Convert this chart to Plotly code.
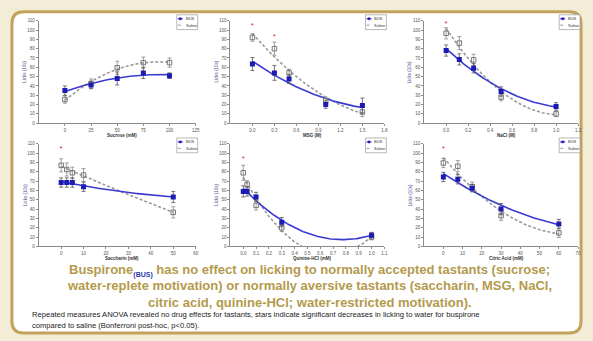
import numpy as np
import plotly.graph_objects as go

W, H = 593, 341

# ---------------- data ----------------
panel_titles = ["Sucrose (mM)", "MSG (M)", "NaCl (M)",
                "Saccharin (mM)", "Quinine-HCl (mM)", "Citric Acid (mM)"]

sucrose_x = [0, 25, 50, 75, 100]
sucrose_bus = [35, 41, 48, 54, 51]
sucrose_bus_err = [5, 4, 7, 6, 3]
sucrose_sal = [25.5, 42.5, 59.5, 65, 65]
sucrose_sal_err = [4, 5, 7, 6, 5]

msg_x = [0, 0.3, 0.5, 1.0, 1.5]
msg_bus = [63.5, 54, 47.5, 20, 19]
msg_bus_err = [7, 8, 5, 4, 8]
msg_sal = [92, 80, 54, 24, 12]
msg_sal_err = [4, 7, 4, 4, 5]

nacl_x = [0, 0.12, 0.25, 0.5, 1.0]
nacl_bus = [78, 68.5, 59, 34, 18]
nacl_bus_err = [6, 6, 5, 5, 4]
nacl_sal = [96.5, 86, 68, 28, 10]
nacl_sal_err = [6, 7, 6, 4, 3]

sacc_x = [0, 2.5, 5, 10, 50]
sacc_bus = [68.5, 68.5, 68.5, 64, 53]
sacc_bus_err = [5, 5, 5, 5, 6]
sacc_sal = [87, 82.5, 79, 76.5, 36.5]
sacc_sal_err = [7, 7, 6, 7, 6]

quin_x = [0, 0.03, 0.1, 0.3, 1.0]
quin_bus = [59, 59, 53, 26, 12]
quin_bus_err = [6, 5, 5, 5, 3]
quin_sal = [79, 66.5, 44, 20, 10]
quin_sal_err = [8, 4, 5, 4, 3]

citric_x = [0, 7.5, 15, 30, 60]
citric_bus = [74.5, 72, 62.5, 40, 24]
citric_bus_err = [5, 5, 4, 6, 5]
citric_sal = [89.5, 86, 64, 33, 14.5]
citric_sal_err = [5, 6, 5, 5, 5]

# significance stars (x, y)
star_x = [None, [0, 0.3], [0], [0], [0], [0]]
star_y = [None, [104, 92], [106], [105], [94], [104]]

x_ticks = [
    [0, 25, 50, 75, 100, 125],
    [0.0, 0.3, 0.6, 0.9, 1.2, 1.5, 1.8],
    [0.0, 0.2, 0.4, 0.6, 0.8, 1.0, 1.2],
    [0, 10, 20, 30, 40, 50, 60],
    [0.0, 0.1, 0.2, 0.3, 0.4, 0.5, 0.6, 0.7, 0.8, 0.9, 1.0, 1.1],
    [0, 10, 20, 30, 40, 50, 60, 70],
]
x_tick_fmt = ["{:.0f}", "{:.1f}", "{:.1f}", "{:.0f}", "{:.1f}", "{:.0f}"]
x_ranges = [[-25, 125], [-0.3, 1.8], [-0.2, 1.2], [-10, 60], [-0.1, 1.1], [-10, 70]]
y_ticks = list(range(0, 111, 10))

caption_lines = [
    "<b>Buspirone<sub><span style='font-size:7px;color:#2a3aa8'>(BUS)</span></sub> has no effect on licking "
    "to normally accepted tastants (sucrose;</b>",
    "<b>water-replete motivation) or normally aversive tastants (saccharin, MSG, NaCl,</b>",
    "<b>citric acid, quinine-HCl; water-restricted motivation).</b>",
]
note_lines = [
    "Repeated measures ANOVA revealed no drug effects for tastants, stars indicate "
    "significant decreases in licking to water for buspirone",
    "compared to saline (Bonferroni post-hoc, p<0.05).",
]

panels = [
    (sucrose_x, sucrose_bus, sucrose_bus_err, sucrose_sal, sucrose_sal_err),
    (msg_x, msg_bus, msg_bus_err, msg_sal, msg_sal_err),
    (nacl_x, nacl_bus, nacl_bus_err, nacl_sal, nacl_sal_err),
    (sacc_x, sacc_bus, sacc_bus_err, sacc_sal, sacc_sal_err),
    (quin_x, quin_bus, quin_bus_err, quin_sal, quin_sal_err),
    (citric_x, citric_bus, citric_bus_err, citric_sal, citric_sal_err),
]

# ---------------- layout geometry (pixels) ----------------
def px(x):
    return x / W

def py(y):
    return 1 - y / H

col_px = [(39, 197), (232, 387), (427, 582)]
row_px = [(19, 123), (144, 248)]

BLUE = "#1c1cb4"
BLUE_LINE = "#3a3ad0"
FONT = "Liberation Sans"

fig = go.Figure()
shapes = []
annotations = []

def note(x, y, text, size, color, xanchor="center", yanchor="middle", **kw):
    annotations.append(dict(x=px(x), y=py(y), xref="paper", yref="paper", text=text,
                            showarrow=False, xanchor=xanchor, yanchor=yanchor,
                            font=dict(size=size, color=color, family=FONT), **kw))

for i, (xs, bus, bus_e, sal, sal_e) in enumerate(panels):
    k = i + 1
    r, c = divmod(i, 3)
    xa = "x" if k == 1 else f"x{k}"
    ya = "y" if k == 1 else f"y{k}"
    xs_arr = np.array(xs, dtype=float)
    grid = np.linspace(xs_arr.min(), xs_arr.max(), 80)
    fit_sal = np.polyval(np.polyfit(xs_arr, sal, 2), grid)
    fit_bus = np.polyval(np.polyfit(xs_arr, bus, 2), grid)

    fig.add_trace(go.Scatter(x=grid, y=fit_sal, mode="lines", xaxis=xa, yaxis=ya,
                             line=dict(color="#9a9a9a", width=1.6, dash="3px,2px"),
                             showlegend=False, hoverinfo="skip"))
    fig.add_trace(go.Scatter(x=grid, y=fit_bus, mode="lines", xaxis=xa, yaxis=ya,
                             line=dict(color=BLUE_LINE, width=1.6),
                             showlegend=False, hoverinfo="skip"))
    fig.add_trace(go.Scatter(x=xs, y=sal, mode="markers", xaxis=xa, yaxis=ya,
                             marker=dict(symbol="square-open", size=4.5, color="#777777",
                                         line=dict(width=1)),
                             error_y=dict(type="data", array=sal_e, color="#888888",
                                          thickness=0.8, width=2),
                             showlegend=False))
    fig.add_trace(go.Scatter(x=xs, y=bus, mode="markers", xaxis=xa, yaxis=ya,
                             marker=dict(symbol="square", size=5, color=BLUE),
                             error_y=dict(type="data", array=bus_e, color="#555555",
                                          thickness=0.8, width=2),
                             showlegend=False))
    if star_x[i]:
        fig.add_trace(go.Scatter(x=star_x[i], y=star_y[i], mode="text", text=["*"] * len(star_x[i]),
                                 textfont=dict(color="#e0303a", size=8, family=FONT),
                                 xaxis=xa, yaxis=ya, showlegend=False, hoverinfo="skip"))

    x0, x1 = col_px[c]
    y0, y1 = row_px[r]
    axis_common = dict(showline=True, linecolor="#8c8c8c", linewidth=1, ticks="outside",
                       ticklen=2, tickcolor="#8c8c8c", showgrid=False, zeroline=False,
                       tickfont=dict(size=4.5, color="#555555", family=FONT))
    fig.update_layout(**{
        ("xaxis" if k == 1 else f"xaxis{k}"): dict(
            domain=[px(x0), px(x1)], anchor=ya, range=x_ranges[i],
            tickvals=x_ticks[i], ticktext=[x_tick_fmt[i].format(v) for v in x_ticks[i]],
            **axis_common),
        ("yaxis" if k == 1 else f"yaxis{k}"): dict(
            domain=[py(y1), py(y0)], anchor=xa, range=[0, 110],
            tickvals=y_ticks, **axis_common),
    })

    # axis titles
    note((x0 + x1) / 2 + 5, y1 + 12.5, f"<b>{panel_titles[i]}</b>", 4.5, "#333333")
    note(x0 - 14, (y0 + y1) / 2, "Licks (10s)", 4.5, "#4a5690", textangle=-90)

    # legend box (drawn)
    lx0, lx1 = x1 - 19, x1 + 2
    ly0, ly1 = y0 - 6, y0 + 9
    shapes.append(dict(type="rect", xref="paper", yref="paper", x0=px(lx0), x1=px(lx1),
                       y0=py(ly1), y1=py(ly0), line=dict(color="#9a9a9a", width=0.7),
                       fillcolor="white"))
    shapes.append(dict(type="line", xref="paper", yref="paper", x0=px(lx0 + 1), x1=px(lx0 + 6),
                       y0=py(ly0 + 4), y1=py(ly0 + 4), line=dict(color=BLUE_LINE, width=1.2)))
    shapes.append(dict(type="rect", xref="paper", yref="paper", x0=px(lx0 + 2.5), x1=px(lx0 + 4.5),
                       y0=py(ly0 + 5), y1=py(ly0 + 3), line=dict(color=BLUE, width=0.5),
                       fillcolor=BLUE))
    shapes.append(dict(type="line", xref="paper", yref="paper", x0=px(lx0 + 1), x1=px(lx0 + 6),
                       y0=py(ly0 + 10.5), y1=py(ly0 + 10.5),
                       line=dict(color="#9a9a9a", width=1, dash="dot")))
    note(lx0 + 7, ly0 + 4, "BUS", 4, "#333333", xanchor="left")
    note(lx0 + 7, ly0 + 10.5, "Saline", 4, "#333333", xanchor="left")

# frame (rounded rectangle)
fx0, fx1, fy0, fy1, rr = 12, 585, 10, 336, 12
path = (f"M {px(fx0 + rr)},{py(fy0)} L {px(fx1 - rr)},{py(fy0)} "
        f"Q {px(fx1)},{py(fy0)} {px(fx1)},{py(fy0 + rr)} L {px(fx1)},{py(fy1 - rr)} "
        f"Q {px(fx1)},{py(fy1)} {px(fx1 - rr)},{py(fy1)} L {px(fx0 + rr)},{py(fy1)} "
        f"Q {px(fx0)},{py(fy1)} {px(fx0)},{py(fy1 - rr)} L {px(fx0)},{py(fy0 + rr)} "
        f"Q {px(fx0)},{py(fy0)} {px(fx0 + rr)},{py(fy0)} Z")
shapes.insert(0, dict(type="path", xref="paper", yref="paper", path=path,
                      fillcolor="white", line=dict(color="#c2a35c", width=3), layer="below"))

GOLD = "#b39a4c"
# first line has a subscript -> anchor by its top so the main text stays on its row
note(312, 262, caption_lines[0], 13, GOLD, yanchor="top")
note(312, 288, caption_lines[1], 13, GOLD)
note(312, 305, caption_lines[2], 13, GOLD)
for text, yy in zip(note_lines, [317, 328]):
    note(30, yy, text, 7.6, "#222222", xanchor="left")

fig.update_layout(width=W, height=H, margin=dict(l=0, r=0, t=0, b=0),
                  paper_bgcolor="#f3ecd6", plot_bgcolor="rgba(0,0,0,0)",
                  shapes=shapes, annotations=annotations, showlegend=False,
                  font=dict(family=FONT))

fig.write_html("out.html", config={"displayModeBar": False},
               post_script="document.body.style.margin='0';document.body.style.overflow='hidden';")
